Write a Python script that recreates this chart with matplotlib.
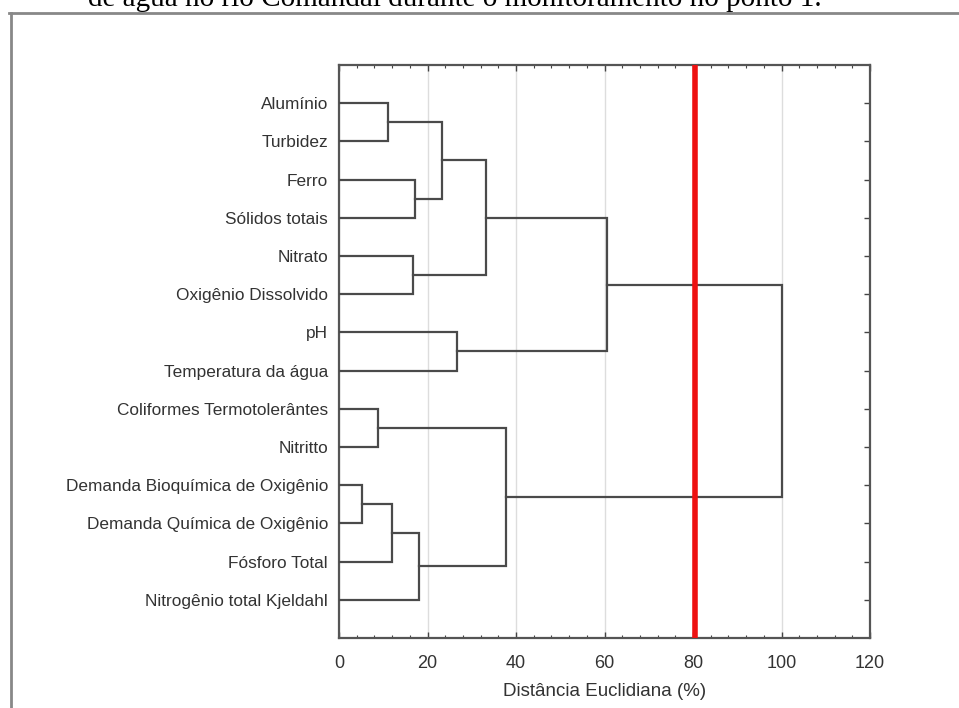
import matplotlib.pyplot as plt
from matplotlib.lines import Line2D
from matplotlib.ticker import MultipleLocator

# leaves, top to bottom
labels = ["Alumínio", "Turbidez", "Ferro", "Sólidos totais", "Nitrato",
          "Oxigênio Dissolvido", "pH", "Temperatura da água",
          "Coliformes Termotolerântes", "Nitritto",
          "Demanda Bioquímica de Oxigênio", "Demanda Química de Oxigênio",
          "Fósforo Total", "Nitrogênio total Kjeldahl"]

# merges: (cluster a, cluster b, distance); new clusters numbered from 14
merge_a = [0, 2, 14, 4, 16, 6, 18, 8, 10, 22, 23, 21, 20]
merge_b = [1, 3, 15, 5, 17, 7, 19, 9, 11, 12, 13, 24, 25]
merge_h = [11.1, 17.2, 23.3, 16.7, 33.2, 26.6, 60.5, 8.8, 5.2, 12.0, 18.0, 37.7, 100.0]

cut_value = 80.5
xticks = [0, 20, 40, 60, 80, 100, 120]

plt.rcParams['font.family'] = ['Liberation Sans', 'DejaVu Sans']

fig = plt.figure(figsize=(9.59, 7.08), dpi=100)
ax = fig.add_axes([0.3535, 0.0989, 0.5537, 0.8093])

pos = {i: (0.0, float(i)) for i in range(len(labels))}
line_col = '#4a4a4a'
for k, (a, b, h) in enumerate(zip(merge_a, merge_b, merge_h)):
    xa, ya = pos[a]
    xb, yb = pos[b]
    ax.plot([xa, h, h, xb], [ya, ya, yb, yb], color=line_col, lw=1.6,
            solid_joinstyle='miter', zorder=3)
    pos[len(labels) + k] = (h, (ya + yb) / 2)

ax.axvline(cut_value, color='#ee1111', lw=4, zorder=4)

ax.set_xlim(0, 120)
ax.set_ylim(14, -1)
ax.set_xticks(xticks)
ax.xaxis.set_minor_locator(MultipleLocator(4))
ax.set_yticks(range(len(labels)))
ax.set_yticklabels(labels)
ax.grid(axis='x', color='#dddddd', lw=1, zorder=0)

ax.tick_params(axis='x', which='both', direction='in', top=True, colors='#444444',
               labelcolor='#333333', labelsize=13, pad=12)
ax.tick_params(axis='x', which='major', length=4, width=1)
ax.tick_params(axis='x', which='minor', length=2, width=0.8)
ax.tick_params(axis='y', which='major', direction='in', left=False, right=True,
               length=4, width=1, colors='#444444', labelcolor='#333333',
               labelsize=12.4, pad=8)
for s in ax.spines.values():
    s.set_color('#555555')
    s.set_linewidth(1.6)

ax.set_xlabel("Distância Euclidiana (%)", fontsize=13.5, color='#333333', labelpad=8)

# outer frame of the page screenshot
fig.add_artist(Line2D([9 / 959, 1], [1 - 13 / 708, 1 - 13 / 708], color='#888888', lw=2,
                      transform=fig.transFigure))
fig.add_artist(Line2D([11 / 959, 11 / 959], [1 - 13 / 708, 0], color='#888888', lw=2,
                      transform=fig.transFigure))

# caption, cut by the top edge
fig.text(455 / 959, 1.0 - 6 / 708, "de água no rio Comandaí durante o monitoramento no ponto 1.",
         ha='center', va='baseline', fontsize=21, family=['Liberation Serif', 'DejaVu Serif'])

fig.savefig("out.png", dpi=100)
